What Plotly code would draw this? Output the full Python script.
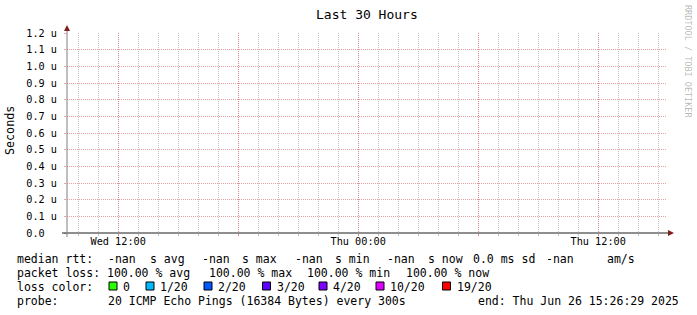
import plotly.graph_objects as go

# ---------------- data ----------------
t_start = "2025-06-25 09:26:29"
t_end = "2025-06-26 15:26:29"
probe_times = [t_start, t_end]
median_rtt = [None, None]          # all values are NaN in the reference

y_tick_vals = [0.0, 0.1e-6, 0.2e-6, 0.3e-6, 0.4e-6, 0.5e-6, 0.6e-6,
               0.7e-6, 0.8e-6, 0.9e-6, 1.0e-6, 1.1e-6, 1.2e-6]
y_tick_text = ["0.0\u00a0\u00a0", "0.1 u", "0.2 u", "0.3 u", "0.4 u", "0.5 u", "0.6 u",
               "0.7 u", "0.8 u", "0.9 u", "1.0 u", "1.1 u", "1.2 u"]

x_tick_vals = ["2025-06-25 12:00", "2025-06-25 18:00", "2025-06-26 00:00",
               "2025-06-26 06:00", "2025-06-26 12:00"]
x_tick_text = ["Wed 12:00", "", "Thu 00:00", "", "Thu 12:00"]

rtt_values = ["-nan", "-nan", "-nan", "-nan"]
rtt_stats = ["s avg", "s max", "s min", "s now"]
sd_value = "0.0"
sd_label = "ms sd"
ams_value = "-nan"
ams_label = "am/s"

loss_values = ["100.00", "100.00", "100.00", "100.00"]
loss_stats = ["avg", "max", "min", "now"]

loss_color_labels = ["0", "1/20", "2/20", "3/20", "4/20", "10/20", "19/20"]
loss_color_values = ["#26ff00", "#00b8ff", "#0059ff", "#5e00ff", "#7e00ff", "#dd00ff", "#ff0000"]

probe_text = "20 ICMP Echo Pings (16384 Bytes) every 300s"
end_text = "end: Thu Jun 26 15:26:29 2025"
title_text = "Last 30 Hours"
y_title = "Seconds"
watermark = "RRDTOOL / TOBI OETIKER"

# ---------------- layout helpers ----------------
W, H = 697, 315
L, R, T, B = 67, 667, 33, 233


def px(x):
    return (x - L) / (R - L)


def py(y):
    return (B - y) / (B - T)


MONO = "DejaVu Sans Mono"
GRID = "rgba(143,143,143,0.5)"
MGRID = "rgba(222,79,79,0.55)"
ARROW = "#801f1f"
FS = 11.5

fig = go.Figure()
fig.add_trace(go.Scatter(x=probe_times, y=median_rtt, mode="lines",
                         line=dict(color="#26ff00"), showlegend=False,
                         hoverinfo="skip"))

fig.update_layout(
    width=W, height=H,
    margin=dict(l=L, r=W - R, t=T, b=H - B, pad=0),
    paper_bgcolor="white", plot_bgcolor="white",
    showlegend=False,
    xaxis=dict(
        type="date", range=[t_start, t_end],
        tickmode="array", tickvals=x_tick_vals, ticktext=x_tick_text,
        showgrid=True, gridcolor=MGRID, griddash="1px,1px", gridwidth=1,
        ticks="outside", ticklen=2, tickcolor=MGRID,
        minor=dict(dtick=3600000, tick0="2025-06-25 00:00", showgrid=True,
                   gridcolor=GRID, griddash="1px,1px", gridwidth=1,
                   ticks="outside", ticklen=2, tickcolor=GRID),
        showline=False, zeroline=False,
        tickfont=dict(family=MONO, size=10.2, color="black"),
        ticklabelstandoff=-3, fixedrange=True,
    ),
    yaxis=dict(
        range=[0, 1.2e-6],
        tickmode="array", tickvals=y_tick_vals, ticktext=y_tick_text,
        showgrid=True, gridcolor=MGRID, griddash="1px,1px", gridwidth=1,
        ticks="outside", ticklen=2, tickcolor=MGRID,
        showline=False, zeroline=False,
        tickfont=dict(family=MONO, size=10.2, color="black"),
        ticklabelstandoff=5, fixedrange=True,
    ),
)

shapes = []
# axes
shapes.append(dict(type="line", xref="paper", yref="paper",
                   x0=px(62), x1=px(669), y0=py(233), y1=py(233),
                   line=dict(color="#1f1f1f", width=1)))
shapes.append(dict(type="line", xref="paper", yref="paper",
                   x0=px(67), x1=px(67), y0=py(237), y1=py(29),
                   line=dict(color="#808080", width=1)))
# arrows
shapes.append(dict(type="path", xref="paper", yref="paper",
                   path=f"M {px(67)} {py(25)} L {px(64)} {py(31)} L {px(70)} {py(31)} Z",
                   fillcolor=ARROW, line=dict(width=0)))
shapes.append(dict(type="path", xref="paper", yref="paper",
                   path=f"M {px(674)} {py(233)} L {px(668)} {py(230)} L {px(668)} {py(236)} Z",
                   fillcolor=ARROW, line=dict(width=0)))

annotations = []


def text(x, y, s, size=FS, color="black", xanchor="left", angle=0):
    annotations.append(dict(xref="paper", yref="paper", x=px(x), y=py(y), text=s,
                            showarrow=False, xanchor=xanchor, yanchor="middle",
                            textangle=angle, borderpad=0,
                            font=dict(family=MONO, size=size, color=color)))


# title, y label, watermark
text(367, 14, title_text, size=13, xanchor="center")
text(10, 131, y_title, size=11.7, xanchor="center", angle=-90)
text(688, 61, watermark, size=8.5, color="rgba(0,0,0,0.3)", xanchor="center", angle=90)

# legend line 1
y1, y2, y3, y4 = 258.5, 272.5, 286.5, 300.5
text(16, y1, "median rtt:")
rtt_val_x = [107, 200.5, 294, 385.5]
rtt_lab_x = [149, 240.5, 334, 426.5]
for i in range(4):
    text(rtt_val_x[i], y1, rtt_values[i])
    text(rtt_lab_x[i], y1, rtt_stats[i])
text(472, y1, f"{sd_value} {sd_label}")
text(545, y1, ams_value)
text(605.5, y1, ams_label)

# legend line 2
text(16, y2, "packet loss:")
loss_x = [105.5, 208, 305.5, 404.5]
for i in range(4):
    text(loss_x[i], y2, f"{loss_values[i]} % {loss_stats[i]}")

# legend line 3
text(16, y3, "loss color:")
lc_x = [122, 159, 217, 275.5, 332, 389, 455.5]
for i in range(len(loss_color_labels)):
    bx = lc_x[i] - 13
    shapes.append(dict(type="rect", xref="paper", yref="paper",
                       x0=px(bx), x1=px(bx + 8), y0=py(290), y1=py(282),
                       fillcolor=loss_color_values[i], line=dict(color="black", width=1)))
    text(lc_x[i], y3, loss_color_labels[i])

# legend line 4
text(16, y4, "probe:")
text(107, y4, probe_text)
text(477, y4, end_text)

fig.update_layout(shapes=shapes, annotations=annotations)
fig.write_html("out.html")
